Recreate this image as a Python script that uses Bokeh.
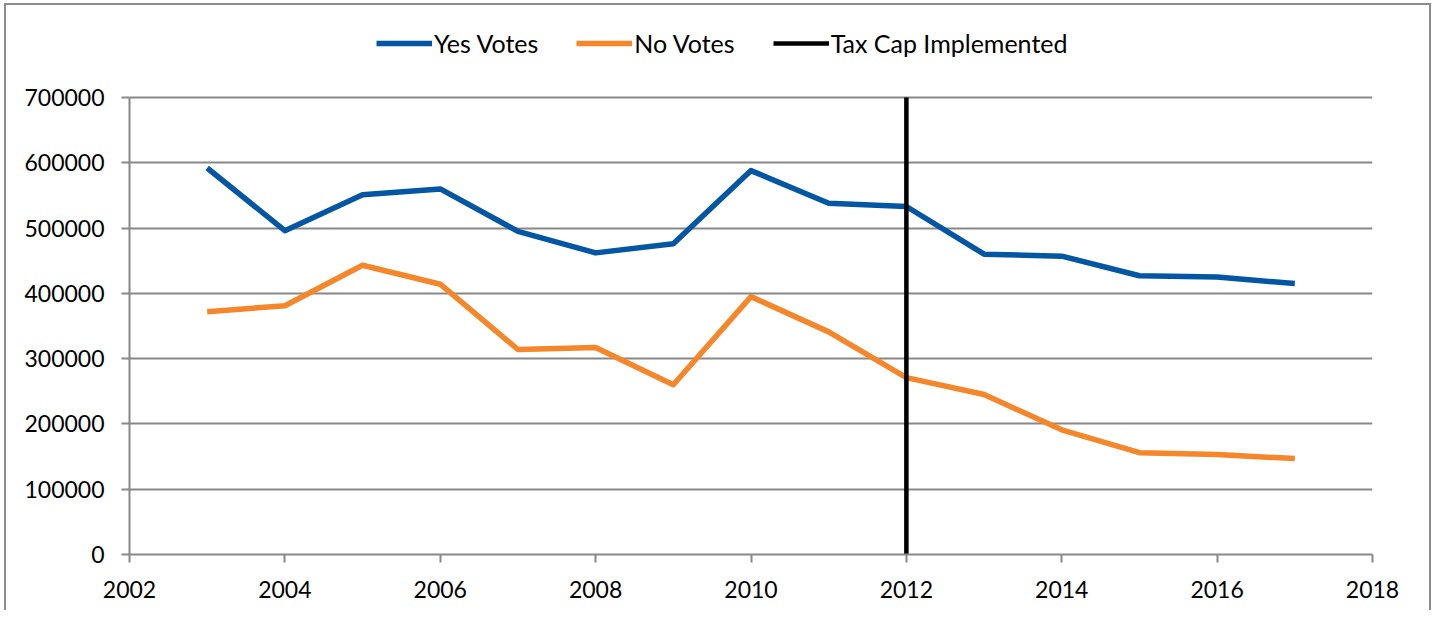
from bokeh.plotting import figure
from bokeh.models import Legend, LegendItem, FixedTicker, BasicTickFormatter, Range1d
from bokeh.embed import file_html
from bokeh.resources import INLINE

years = [2003, 2004, 2005, 2006, 2007, 2008, 2009, 2010, 2011, 2012, 2013, 2014, 2015, 2016, 2017]
yes_votes = [592000, 496000, 551000, 560000, 495000, 462000, 476000, 588000, 538000, 533000, 460000, 457000, 427000, 425000, 415000]
no_votes = [372000, 381000, 443000, 414000, 314000, 317000, 260000, 395000, 341000, 271000, 245000, 191000, 156000, 153000, 147000]
tax_cap_year = [2012, 2012]
tax_cap_span = [0, 700000]
x_ticks = [2002, 2004, 2006, 2008, 2010, 2012, 2014, 2016, 2018]
y_ticks = [0, 100000, 200000, 300000, 400000, 500000, 600000, 700000]

FONT = "Lato"
GRAY = "#888888"

# plotted value area is 457px tall; the frame is extended upward to host the legend
PLOT_H = 457
EXTRA = 87
y_top = 700000 * (PLOT_H + EXTRA) / PLOT_H

p = figure(frame_width=1243, frame_height=PLOT_H + EXTRA, output_backend="svg", toolbar_location=None,
           x_range=Range1d(2002, 2018), y_range=Range1d(0, y_top),
           min_border_left=123, min_border_right=57, min_border_top=92 - EXTRA, min_border_bottom=56)
p.outline_line_color = None
p.background_fill_color = "white"
p.border_fill_color = "white"

blue = p.line(years, yes_votes, line_color="#0356A3", line_width=5.5, line_join="round")
orange = p.line(years, no_votes, line_color="#F5862A", line_width=5.5, line_join="round")
black = p.line(tax_cap_year, tax_cap_span, line_color="black", line_width=4.5)

p.xgrid.grid_line_color = None
p.ygrid.grid_line_color = GRAY
p.ygrid.grid_line_width = 2
p.ygrid.ticker = FixedTicker(ticks=y_ticks)

p.xaxis.ticker = FixedTicker(ticks=x_ticks)
p.yaxis.ticker = FixedTicker(ticks=y_ticks)
p.yaxis.bounds = (0, 700000)
p.yaxis.formatter = BasicTickFormatter(use_scientific=False)
for ax in (p.xaxis, p.yaxis):
    ax.axis_line_color = GRAY
    ax.axis_line_width = 2
    ax.major_tick_line_color = GRAY
    ax.major_tick_line_width = 2
    ax.major_tick_in = 0
    ax.major_tick_out = 8
    ax.minor_tick_line_color = None
    ax.major_label_text_font = FONT
    ax.major_label_text_font_size = "23px"
    ax.major_label_text_color = "black"
p.yaxis.major_label_standoff = 17
p.xaxis.major_label_standoff = 18

legend = Legend(items=[LegendItem(label="Yes Votes", renderers=[blue]),
                       LegendItem(label="No Votes", renderers=[orange]),
                       LegendItem(label="Tax Cap Implemented", renderers=[black])],
                orientation="horizontal", location=(247, 496),
                label_text_font=FONT, label_text_font_size="25px", label_text_color="black",
                glyph_width=56, glyph_height=20, label_standoff=2, spacing=38,
                border_line_color=None, background_fill_alpha=0, padding=0, margin=0)
p.add_layout(legend, "center")

p.styles = {"border-left": "2px solid #8c8c8c", "border-top": "2px solid #8c8c8c",
            "border-right": "2px solid #8c8c8c", "margin-left": "4px", "margin-top": "3px"}

open("out.html", "w").write(file_html(p, INLINE))
